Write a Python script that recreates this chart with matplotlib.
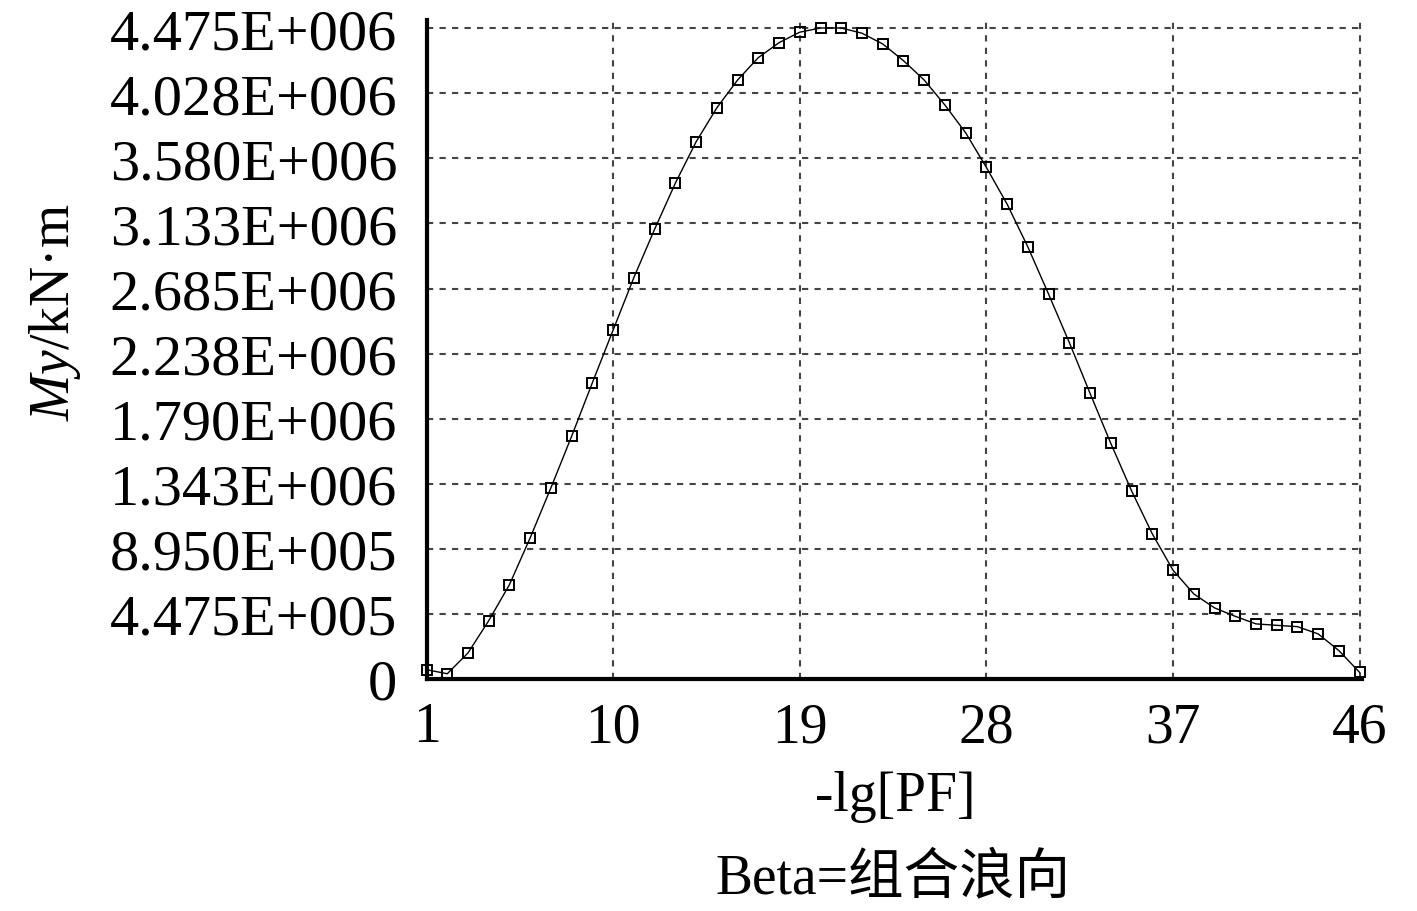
import matplotlib
matplotlib.use('Agg')
import matplotlib.pyplot as plt
import numpy as np

plt.rcParams['font.family'] = ['Liberation Serif', 'Noto Sans CJK SC']
plt.rcParams['mathtext.fontset'] = 'custom'
plt.rcParams['mathtext.rm'] = 'Liberation Serif'
plt.rcParams['mathtext.it'] = 'Liberation Serif:italic'

# -lg[PF] positions 1..46
lg_pf = list(range(1, 47))
# bending moment My (kN*m)
my_values = [64000, 36000, 179000, 401000, 649000, 971000, 1315000, 1670000,
             2038000, 2400000, 2761000, 3093000, 3410000, 3694000, 3928000,
             4119000, 4273000, 4376000, 4448000, 4477000, 4477000, 4441000,
             4367000, 4252000, 4119000, 3947000, 3756000, 3518000, 3265000,
             2971000, 2646000, 2313000, 1964000, 1620000, 1294000, 998000,
             748000, 585000, 489000, 431000, 379000, 369000, 360000, 310000,
             195000, 45000]

y_ticks = [0, 447500, 895000, 1343000, 1790000, 2238000, 2685000, 3133000,
           3580000, 4028000, 4475000]
y_tick_labels = ['0', '4.475E+005', '8.950E+005', '1.343E+006', '1.790E+006',
                 '2.238E+006', '2.685E+006', '3.133E+006', '3.580E+006',
                 '4.028E+006', '4.475E+006']
x_ticks = [1, 10, 19, 28, 37, 46]

fig = plt.figure(figsize=(14.17, 9.12), dpi=100)
ax = fig.add_axes([0.301, 0.2544, 0.66, 0.7226])

ax.plot(lg_pf, my_values, color='black', linewidth=1.0,
        marker='s', markersize=6.5, markerfacecolor='none',
        markeredgecolor='black', markeredgewidth=1.4, clip_on=False,
        zorder=5)

ax.set_xlim(1, 46.1)
ax.set_ylim(0, 4532000)
ax.set_xticks(x_ticks)
ax.set_xticklabels([str(v) for v in x_ticks])
ax.set_yticks(y_ticks)
ax.set_yticklabels(y_tick_labels)
ax.tick_params(axis='both', length=0)
ax.tick_params(axis='y', pad=21, labelsize=42)
ax.tick_params(axis='x', pad=16, labelsize=40)

ax.grid(True, color='#444444', linestyle=(0, (3, 3)), linewidth=1.5)
ax.set_axisbelow(True)

ax.spines['top'].set_visible(False)
ax.spines['right'].set_visible(False)
ax.spines['left'].set_linewidth(3)
ax.spines['bottom'].set_linewidth(3)

fig.text(55 / 1417, 1 - 312 / 912, r'$My$/kN·m', rotation=90,
         ha='center', va='center', fontsize=40)
fig.text(895 / 1417, 1 - 797 / 912, '-lg[PF]', ha='center', va='center',
         fontsize=40)
fig.text(893 / 1417, 1 - 880 / 912, 'Beta=组合浪向', ha='center', va='center',
         fontsize=40)

fig.savefig('out.png', dpi=100)
